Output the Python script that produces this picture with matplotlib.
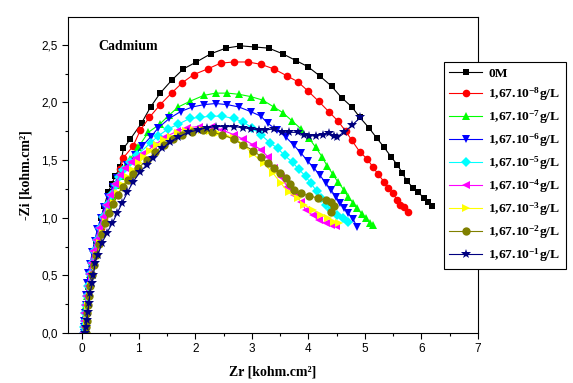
import matplotlib
matplotlib.use("Agg")
import matplotlib.pyplot as plt
from matplotlib.ticker import MultipleLocator, FuncFormatter

plt.rcParams['mathtext.fontset'] = 'custom'
plt.rcParams['mathtext.rm'] = 'Liberation Serif:bold'
plt.rcParams['mathtext.bf'] = 'Liberation Serif:bold'
plt.rcParams['mathtext.it'] = 'Liberation Serif:bold:italic'

# Nyquist data, Zr / -Zi in kohm.cm2
x_0M = [0.04, 0.045, 0.05, 0.06, 0.07, 0.09, 0.11, 0.14, 0.17, 0.21, 0.25, 0.29, 0.34, 0.39, 0.46, 0.52,
        0.585, 0.67, 0.73, 0.85, 1.05, 1.21, 1.38, 1.58, 1.79, 2.02, 2.27, 2.54, 2.80, 3.05, 3.30, 3.55,
        3.79, 3.99, 4.20, 4.41, 4.59, 4.77, 4.91, 5.07, 5.21, 5.34, 5.46, 5.57, 5.66, 5.74, 5.85, 5.94,
        6.05, 6.12, 6.19]
y_0M = [0.0, 0.05, 0.1, 0.16, 0.23, 0.31, 0.4, 0.5, 0.6, 0.7, 0.8, 0.9, 1.0, 1.1, 1.22, 1.29,
        1.36, 1.44, 1.60, 1.68, 1.82, 1.96, 2.08, 2.19, 2.29, 2.35, 2.42, 2.47, 2.49, 2.48, 2.47, 2.42,
        2.36, 2.31, 2.23, 2.14, 2.04, 1.96, 1.87, 1.78, 1.69, 1.61, 1.53, 1.46, 1.39, 1.32, 1.26, 1.22,
        1.17, 1.14, 1.10]

x_e8 = [0.045, 0.05, 0.055, 0.065, 0.075, 0.095, 0.12, 0.15, 0.19, 0.23, 0.28, 0.33, 0.38, 0.44, 0.51,
        0.585, 0.67, 0.73, 0.90, 1.03, 1.19, 1.38, 1.58, 1.77, 1.97, 2.22, 2.45, 2.68, 2.93, 3.16, 3.39,
        3.62, 3.81, 3.99, 4.18, 4.36, 4.52, 4.66, 4.77, 4.91, 5.04, 5.14, 5.23, 5.34, 5.41, 5.50, 5.57,
        5.62, 5.69, 5.76]
y_e8 = [0.0, 0.05, 0.1, 0.17, 0.24, 0.32, 0.41, 0.51, 0.61, 0.71, 0.81, 0.91, 1.0, 1.08, 1.18,
        1.28, 1.42, 1.52, 1.62, 1.76, 1.87, 1.98, 2.08, 2.17, 2.24, 2.29, 2.34, 2.35, 2.35, 2.33, 2.29,
        2.23, 2.18, 2.10, 2.01, 1.92, 1.84, 1.75, 1.67, 1.57, 1.51, 1.44, 1.38, 1.31, 1.26, 1.21, 1.15,
        1.11, 1.09, 1.05]

x_e7 = [0.04, 0.045, 0.05, 0.06, 0.07, 0.09, 0.115, 0.145, 0.18, 0.22, 0.27, 0.32, 0.38, 0.45, 0.52,
        0.60, 0.68, 0.76, 0.85, 0.99, 1.17, 1.37, 1.54, 1.70, 1.91, 2.15, 2.36, 2.57, 2.77, 2.98, 3.19,
        3.39, 3.55, 3.71, 3.87, 4.01, 4.13, 4.24, 4.33, 4.43, 4.52, 4.63, 4.70, 4.79, 4.86, 4.95, 5.02,
        5.09, 5.14]
y_e7 = [0.0, 0.05, 0.1, 0.17, 0.24, 0.32, 0.41, 0.51, 0.61, 0.71, 0.81, 0.91, 1.0, 1.1, 1.19,
        1.28, 1.36, 1.44, 1.51, 1.61, 1.74, 1.81, 1.89, 1.96, 2.01, 2.06, 2.08, 2.08, 2.07, 2.05, 2.02,
        1.96, 1.91, 1.84, 1.77, 1.69, 1.61, 1.53, 1.45, 1.38, 1.31, 1.24, 1.18, 1.13, 1.08, 1.03, 1.00,
        0.95, 0.94]

x_e6 = [0.03, 0.035, 0.04, 0.05, 0.06, 0.075, 0.09, 0.10, 0.14, 0.18, 0.22, 0.27, 0.33, 0.39, 0.46,
        0.54, 0.62, 0.71, 0.80, 0.93, 1.06, 1.21, 1.35, 1.54, 1.74, 1.95, 2.15, 2.36, 2.57, 2.77, 2.98,
        3.16, 3.28, 3.44, 3.60, 3.74, 3.87, 3.99, 4.10, 4.20, 4.31, 4.40, 4.49, 4.56, 4.63, 4.70, 4.79,
        4.86]
y_e6 = [0.0, 0.05, 0.1, 0.17, 0.24, 0.33, 0.43, 0.52, 0.6, 0.7, 0.8, 0.9, 1.0, 1.09, 1.18,
        1.27, 1.34, 1.40, 1.46, 1.54, 1.62, 1.70, 1.78, 1.86, 1.92, 1.96, 1.98, 1.99, 1.98, 1.96, 1.92,
        1.88, 1.82, 1.76, 1.70, 1.63, 1.56, 1.49, 1.43, 1.37, 1.30, 1.24, 1.18, 1.13, 1.08, 1.04, 0.99,
        0.92]

x_e5 = [0.035, 0.04, 0.045, 0.055, 0.065, 0.085, 0.11, 0.14, 0.175, 0.215, 0.26, 0.31, 0.37, 0.44,
        0.51, 0.59, 0.66, 0.73, 0.85, 0.97, 1.21, 1.35, 1.52, 1.70, 1.90, 2.09, 2.27, 2.48, 2.68, 2.85,
        3.00, 3.16, 3.32, 3.46, 3.58, 3.72, 3.83, 3.95, 4.04, 4.15, 4.22, 4.31, 4.40, 4.50, 4.61, 4.70]
y_e5 = [0.0, 0.05, 0.1, 0.17, 0.24, 0.32, 0.41, 0.51, 0.61, 0.71, 0.81, 0.91, 1.01, 1.11,
        1.2, 1.28, 1.35, 1.41, 1.48, 1.54, 1.65, 1.71, 1.77, 1.81, 1.86, 1.87, 1.88, 1.88, 1.86, 1.83,
        1.78, 1.72, 1.65, 1.60, 1.54, 1.48, 1.42, 1.36, 1.30, 1.23, 1.17, 1.11, 1.07, 1.02, 1.00, 0.96]

x_e4 = [0.02, 0.025, 0.03, 0.04, 0.05, 0.07, 0.095, 0.125, 0.16, 0.2, 0.25, 0.3, 0.36, 0.43, 0.5,
        0.58, 0.67, 0.76, 0.86, 0.96, 1.06, 1.26, 1.47, 1.68, 1.86, 2.06, 2.27, 2.48, 2.68, 2.85, 3.03,
        3.16, 3.28, 3.39, 3.51, 3.63, 3.74, 3.87, 3.95, 4.08, 4.18, 4.31, 4.40, 4.49]
y_e4 = [0.0, 0.05, 0.1, 0.17, 0.24, 0.32, 0.41, 0.51, 0.61, 0.71, 0.81, 0.91, 1.01, 1.11, 1.2,
        1.29, 1.37, 1.43, 1.48, 1.52, 1.55, 1.62, 1.70, 1.75, 1.78, 1.79, 1.79, 1.76, 1.72, 1.68, 1.63,
        1.59, 1.53, 1.43, 1.35, 1.27, 1.20, 1.14, 1.07, 1.02, 0.98, 0.95, 0.94, 0.93]

x_e3 = [0.08, 0.085, 0.09, 0.10, 0.11, 0.13, 0.155, 0.185, 0.22, 0.26, 0.31, 0.36, 0.42, 0.49, 0.56,
        0.64, 0.72, 0.81, 0.90, 1.00, 1.10, 1.20, 1.32, 1.44, 1.57, 1.70, 1.84, 1.98, 2.12, 2.26, 2.40,
        2.54, 2.68, 2.85, 3.03, 3.21, 3.37, 3.51, 3.65, 3.81, 3.92, 4.08, 4.22, 4.34, 4.45, 4.55]
y_e3 = [0.0, 0.05, 0.1, 0.17, 0.24, 0.32, 0.41, 0.5, 0.59, 0.68, 0.78, 0.87, 0.96, 1.05, 1.13,
        1.21, 1.28, 1.35, 1.41, 1.47, 1.53, 1.58, 1.63, 1.67, 1.70, 1.73, 1.75, 1.76, 1.76, 1.75, 1.73,
        1.71, 1.69, 1.63, 1.55, 1.47, 1.39, 1.30, 1.22, 1.17, 1.11, 1.07, 1.02, 1.00, 0.96, 0.95]

x_e2 = [0.07, 0.075, 0.08, 0.09, 0.10, 0.12, 0.145, 0.175, 0.21, 0.25, 0.3, 0.35, 0.41, 0.48, 0.55,
        0.63, 0.72, 0.81, 0.90, 0.99, 1.15, 1.29, 1.44, 1.60, 1.77, 1.95, 2.13, 2.30, 2.48, 2.68, 2.85,
        3.03, 3.16, 3.28, 3.39, 3.49, 3.60, 3.67, 3.74, 3.87, 4.01, 4.17, 4.31, 4.40, 4.45, 4.40]
y_e2 = [0.0, 0.05, 0.1, 0.17, 0.24, 0.32, 0.41, 0.5, 0.59, 0.68, 0.77, 0.86, 0.95, 1.04, 1.12,
        1.2, 1.27, 1.33, 1.38, 1.43, 1.50, 1.57, 1.63, 1.68, 1.72, 1.74, 1.76, 1.74, 1.72, 1.68, 1.63,
        1.58, 1.53, 1.47, 1.43, 1.39, 1.34, 1.29, 1.24, 1.21, 1.19, 1.17, 1.15, 1.14, 1.10, 1.05]

x_e1 = [0.05, 0.07, 0.08, 0.10, 0.12, 0.14, 0.18, 0.20, 0.23, 0.28, 0.35, 0.44, 0.53, 0.62, 0.71,
        0.80, 0.90, 1.03, 1.15, 1.26, 1.42, 1.56, 1.70, 1.88, 2.04, 2.20, 2.36, 2.52, 2.68, 2.84, 2.98,
        3.12, 3.24, 3.39, 3.53, 3.65, 3.81, 3.92, 4.02, 4.13, 4.26, 4.36, 4.45, 4.50, 4.63, 4.77, 4.92]
y_e1 = [0.0, 0.05, 0.11, 0.18, 0.26, 0.35, 0.43, 0.5, 0.61, 0.68, 0.78, 0.87, 0.95, 1.04, 1.13,
        1.22, 1.31, 1.40, 1.46, 1.52, 1.60, 1.66, 1.70, 1.74, 1.76, 1.78, 1.79, 1.79, 1.79, 1.78, 1.77,
        1.76, 1.76, 1.77, 1.74, 1.74, 1.74, 1.72, 1.71, 1.71, 1.72, 1.73, 1.71, 1.70, 1.74, 1.80, 1.87]

labels = ['0M', '1,67.10$^{-8}$g/L', '1,67.10$^{-7}$g/L', '1,67.10$^{-6}$g/L', '1,67.10$^{-5}$g/L',
          '1,67.10$^{-4}$g/L', '1,67.10$^{-3}$g/L', '1,67.10$^{-2}$g/L', '1,67.10$^{-1}$g/L']
colors = ['#000000', '#ff0000', '#00ff00', '#0000ff', '#00ffff', '#ff00ff', '#ffff00', '#808000', '#000080']
markers = ['s', 'o', '^', 'v', 'D', '<', '>', 'o', '*']
msizes = [4.5, 5.5, 6, 6, 4.8, 6, 6, 6, 7]

xs = [x_0M, x_e8, x_e7, x_e6, x_e5, x_e4, x_e3, x_e2, x_e1]
ys = [y_0M, y_e8, y_e7, y_e6, y_e5, y_e4, y_e3, y_e2, y_e1]

fig = plt.figure(figsize=(5.73, 3.83), dpi=100)
ax = fig.add_axes([0.1187, 0.1305, 0.7155, 0.8251])

for i in range(len(xs)):
    ax.plot(xs[i], ys[i], color=colors[i], marker=markers[i], markersize=msizes[i],
            markeredgewidth=0, linewidth=0.8, label=labels[i])

ax.set_xlim(-0.25, 7)
ax.set_ylim(0, 2.74)
ax.xaxis.set_major_locator(MultipleLocator(1))
ax.xaxis.set_minor_locator(MultipleLocator(0.5))
ax.yaxis.set_major_locator(MultipleLocator(0.5))
ax.yaxis.set_minor_locator(MultipleLocator(0.25))
ax.yaxis.set_major_formatter(FuncFormatter(lambda v, p: ('%.1f' % v).replace('.', ',')))
ax.tick_params(which='major', length=4, width=0.8, direction='out', labelsize=8.5)
ax.tick_params(which='minor', length=2.5, width=0.8, direction='out')
for lab in ax.get_xticklabels() + ax.get_yticklabels():
    lab.set_fontfamily('Liberation Sans')

ax.set_xlabel('Zr [kohm.cm²]', fontfamily='Liberation Serif', fontweight='bold', fontsize=10, labelpad=7)
ax.set_ylabel('-Zi [kohm.cm²]', fontfamily='Liberation Serif', fontweight='bold', fontsize=10, labelpad=6)
ax.text(0.28, 2.48, 'Cadmium', fontfamily='Liberation Serif', fontweight='bold', fontsize=10, va='center')

leg = fig.legend(loc='upper left', bbox_to_anchor=(444 / 573, 1 - 62 / 383), frameon=True, fancybox=False,
                 edgecolor='black', framealpha=1, handlelength=2.4, handletextpad=0.5, labelspacing=0.4,
                 borderpad=0.4, borderaxespad=0,
                 prop={'family': 'Liberation Serif', 'weight': 'bold', 'size': 9.7})
leg.get_frame().set_linewidth(0.8)

fig.savefig('out.png', dpi=100)
